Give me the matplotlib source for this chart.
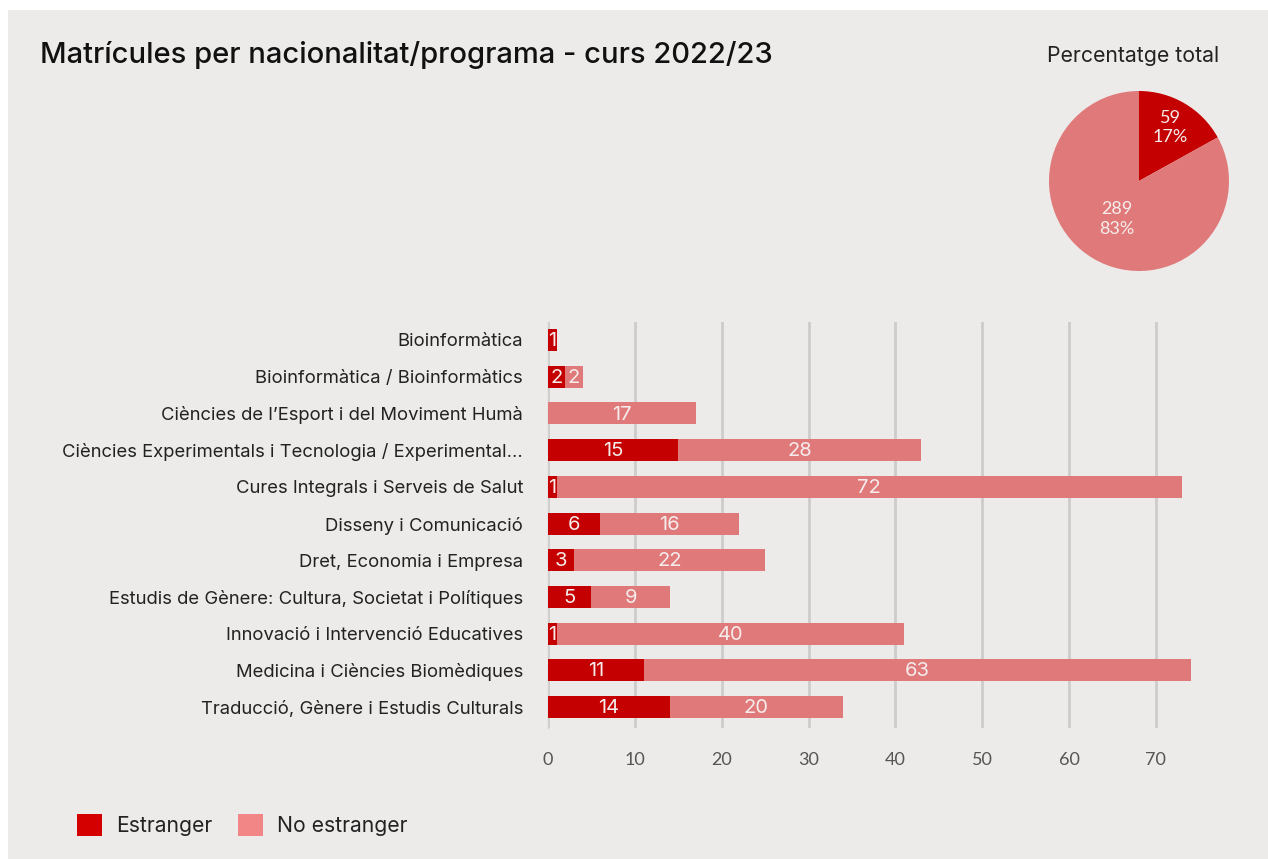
import matplotlib
matplotlib.use("Agg")
import matplotlib.pyplot as plt
from matplotlib.patches import Rectangle, Patch
import numpy as np

categories = [
    "Bioinformàtica",
    "Bioinformàtica / Bioinformàtics",
    "Ciències de l’Esport i del Moviment Humà",
    "Ciències Experimentals i Tecnologia / Experimental...",
    "Cures Integrals i Serveis de Salut",
    "Disseny i Comunicació",
    "Dret, Economia i Empresa",
    "Estudis de Gènere: Cultura, Societat i Polítiques",
    "Innovació i Intervenció Educatives",
    "Medicina i Ciències Biomèdiques",
    "Traducció, Gènere i Estudis Culturals",
]
estranger = [1, 2, 0, 15, 1, 6, 3, 5, 1, 11, 14]
no_estranger = [0, 2, 17, 28, 72, 16, 22, 9, 40, 63, 20]
series_names = ["Estranger", "No estranger"]
pie_values = [59, 289]
pie_pcts = ["17%", "83%"]
xticks = [0, 10, 20, 30, 40, 50, 60, 70]

title = "Matrícules per nacionalitat/programa - curs 2022/23"
pie_title = "Percentatge total"

C_EST = "#C40000"
C_NO = "#E07A7A"
C_EST_LEG = "#D40000"
C_NO_LEG = "#F28686"
BG = "#ECEBE9"
LBL = "#F6ECEC"

W, H = 1268, 859
fig = plt.figure(figsize=(W / 100, H / 100), dpi=100)
fig.patch.set_facecolor("white")
fig.patches.append(Rectangle((8 / W, 0), 1 - 8 / W, 1 - 10 / H, transform=fig.transFigure,
                             facecolor=BG, edgecolor="none", zorder=-10))

def fx(px):
    return px / W

def fy(py):
    return 1 - py / H

# Bar chart
ax = fig.add_axes([fx(548), fy(728), fx(1208) - fx(548), fy(322) - fy(728)])
ax.set_facecolor("none")
y = np.arange(len(categories))
b1 = ax.barh(y, estranger, height=0.6, color=C_EST, zorder=3)
b2 = ax.barh(y, no_estranger, left=estranger, height=0.6, color=C_NO, zorder=3)
ax.set_xlim(0, 76)
ax.set_ylim(len(categories) - 0.43, -0.49)
ax.set_yticks(y)
ax.set_yticklabels(categories, fontsize=13.3, color="#222222", family=["Inter", "DejaVu Sans"])
ax.set_xticks(xticks)
ax.set_xticklabels([str(t) for t in xticks], fontsize=13, color="#555555", family=["Lato", "DejaVu Sans"])
ax.tick_params(axis="y", length=0, pad=18)
ax.tick_params(axis="x", length=0, pad=17)
ax.grid(axis="x", color="#CDCCCA", linewidth=2, zorder=0)
for s in ["top", "right", "bottom"]:
    ax.spines[s].set_visible(False)
ax.spines["left"].set_color("#D0D0D0")
ax.spines["left"].set_linewidth(1)
ax.spines["left"].set_zorder(2)

for bars in (b1, b2):
    for r in bars:
        w = r.get_width()
        if w > 0:
            ax.text(r.get_x() + w / 2, r.get_y() + r.get_height() / 2 + 0.03, f"{int(w)}",
                    ha="center", va="center", fontsize=14.5, color=LBL,
                    family=["Inter", "DejaVu Sans"], zorder=4)

# Title
fig.text(fx(40), fy(55), title, fontsize=21, fontweight="medium", color="#111111",
         family=["Inter", "DejaVu Sans"], va="center", ha="left")

# Pie
r = 90
pax = fig.add_axes([fx(1139 - r), fy(181 + r), 2 * r / W, 2 * r / H])
wedges, _ = pax.pie(pie_values, colors=[C_EST, C_NO], startangle=90, counterclock=False,
                    radius=1, wedgeprops=dict(linewidth=0))
pax.set_aspect("equal")
pax.set_xlim(-1, 1)
pax.set_ylim(-1, 1)
dists = [0.69, 0.49]
for wdg, v, p, d in zip(wedges, pie_values, pie_pcts, dists):
    ang = np.deg2rad((wdg.theta1 + wdg.theta2) / 2)
    pax.text(d * np.cos(ang), d * np.sin(ang), f"{v}\n{p}", ha="center", va="center",
             fontsize=13, color=LBL, family=["Lato", "DejaVu Sans"], linespacing=1.3)
fig.text(fx(1133), fy(56), pie_title, fontsize=15.3, color="#222222",
         family=["Inter", "DejaVu Sans"], ha="center", va="center")

# Legend
handles = [Patch(facecolor=C_EST_LEG, edgecolor="none"), Patch(facecolor=C_NO_LEG, edgecolor="none")]
leg = fig.legend(handles, series_names, loc="center left", bbox_to_anchor=(fx(58), fy(825)),
                 ncol=2, frameon=False, handlelength=1.2, handleheight=1.2,
                 handletextpad=0.65, columnspacing=1.2,
                 prop={"family": ["Inter", "DejaVu Sans"], "size": 15.2})
for t in leg.get_texts():
    t.set_color("#222222")

fig.savefig("out.png", dpi=100, facecolor=fig.get_facecolor())
